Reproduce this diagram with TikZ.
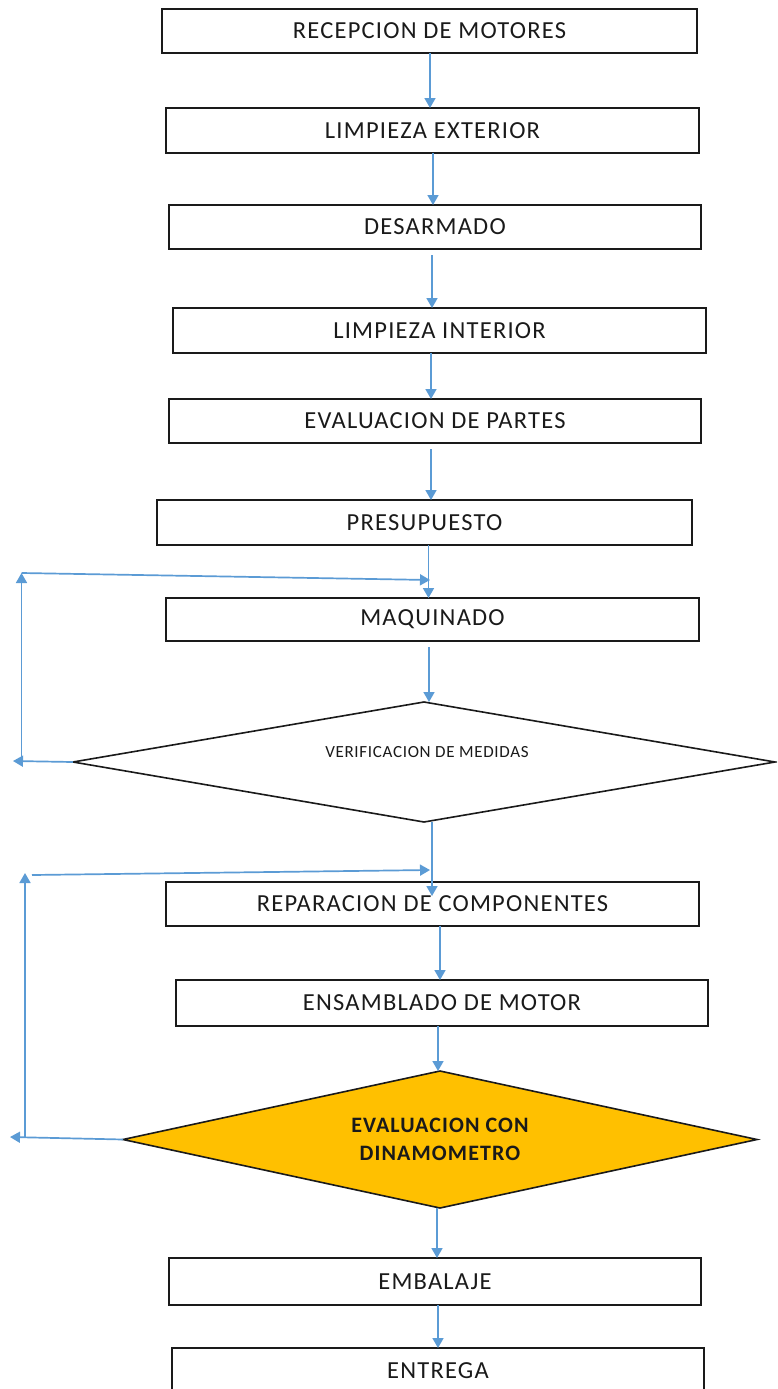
\documentclass[tikz,border=0pt]{standalone}
\usepackage{fontspec}
\setmainfont{Carlito}[LetterSpace=5]
\newfontfamily\smallfam{Carlito}[LetterSpace=4]
\usetikzlibrary{shapes.geometric,arrows.meta}
\definecolor{arrowblue}{HTML}{5B9BD5}
\definecolor{gold}{HTML}{FFC000}
\definecolor{ink}{HTML}{1A1A1A}
\tikzset{
  procbox/.style={draw=ink, line width=1.6pt, rectangle, inner sep=0pt, outer sep=0pt,
    text=ink, font=\fontsize{24.5}{28}\selectfont},
  decbox/.style={draw=ink, line width=1.6pt, diamond, inner sep=0pt, outer sep=0pt},
  flow/.style={draw=arrowblue, line width=1.7pt, -{Triangle[width=11pt,length=10pt]}}
}
\begin{document}
\begin{tikzpicture}[x=1pt,y=-1pt]
\clip (0,0) rectangle (777,1389);
\fill[white] (0,0) rectangle (777,1389);

\node[procbox, minimum width=535pt, minimum height=44pt] (b1) at (429.5,31) {RECEPCION DE MOTORES};
\node[procbox, minimum width=533pt, minimum height=45pt] (b2) at (432.5,130.5) {LIMPIEZA EXTERIOR};
\node[procbox, minimum width=532pt, minimum height=44pt] (b3) at (435,227) {DESARMADO};
\node[procbox, minimum width=533pt, minimum height=45pt] (b4) at (439.5,330.5) {LIMPIEZA INTERIOR};
\node[procbox, minimum width=532pt, minimum height=44pt] (b5) at (435,421) {EVALUACION DE PARTES};
\node[procbox, minimum width=535pt, minimum height=45pt] (b6) at (424.5,522.5) {PRESUPUESTO};
\node[procbox, minimum width=533pt, minimum height=43pt] (b7) at (432.5,619.5) {MAQUINADO};

\node[decbox, minimum width=702pt, minimum height=120pt] (d1) at (424,762) {};
\node[text=ink, font=\smallfam\fontsize{17}{19}\selectfont, inner sep=0pt] (d1txt) at (427,752) {VERIFICACION DE MEDIDAS};

\node[procbox, minimum width=533pt, minimum height=44pt] (b8) at (432.5,904) {REPARACION DE COMPONENTES};
\node[procbox, minimum width=532pt, minimum height=46pt] (b9) at (442,1003) {ENSAMBLADO DE MOTOR};

\node[decbox, fill=gold, aspect=4.6, minimum width=634pt, minimum height=137pt,
  align=center, text=ink, font=\bfseries\fontsize{22}{28}\selectfont] (d2) at (440,1139.5)
  {EVALUACION CON\\DINAMOMETRO};

\node[procbox, minimum width=532pt, minimum height=47pt] (b10) at (435,1281.5) {EMBALAJE};
\node[procbox, minimum width=532pt, minimum height=46pt] (b11) at (438,1371) {ENTREGA};

% main flow (all vertical)
\draw[flow] ([xshift=0.5pt]b1.south) -- ([xshift=-2.5pt]b2.north);
\draw[flow] ([xshift=0.5pt]b2.south) -- ([xshift=-2pt]b3.north);
\draw[flow] ([xshift=-3pt,yshift=-6pt]b3.south) -- ([xshift=-7.5pt]b4.north);
\draw[flow] ([xshift=-8.5pt]b4.south) -- ([xshift=-4pt]b5.north);
\draw[flow] ([xshift=-4pt,yshift=-6pt]b5.south) -- ([xshift=6.5pt]b6.north);
\draw[flow] ([xshift=4pt]b6.south) -- ([xshift=-4pt]b7.north);
\draw[flow] ([xshift=-3.5pt,yshift=-6pt]b7.south) -- ([xshift=5pt]d1.north);
\draw[flow] ([xshift=8pt]d1.south) -- ([xshift=-0.5pt,yshift=-14pt]b8.north);
\draw[flow] ([xshift=7.5pt]b8.south) -- ([xshift=-2pt]b9.north);
\draw[flow] ([xshift=-4pt]b9.south) -- ([xshift=-2pt]d2.north);
\draw[flow] ([xshift=-3pt]d2.south) -- ([xshift=2pt]b10.north);
\draw[flow] ([xshift=3pt]b10.south) -- (b11.north);

% loop 1
\coordinate (l1a) at (13,761);
\coordinate (l1b) at (21.5,761);
\coordinate (l1c) at (21.5,573);
\coordinate (l1d) at (430,580);
\draw[flow] (d1.west) -- (l1a);
\draw[flow] (l1b) -- (l1c);
\draw[flow] (l1c) -- (l1d);

% loop 2
\coordinate (l2a) at (10,1137);
\coordinate (l2b) at (25,1137);
\coordinate (l2c) at (25,873);
\coordinate (l2s) at (32,875);
\coordinate (l2d) at (430,870);
\draw[flow] (d2.west) -- (l2a);
\draw[flow] (l2b) -- (l2c);
\draw[flow] (l2s) -- (l2d);
\end{tikzpicture}
\end{document}
